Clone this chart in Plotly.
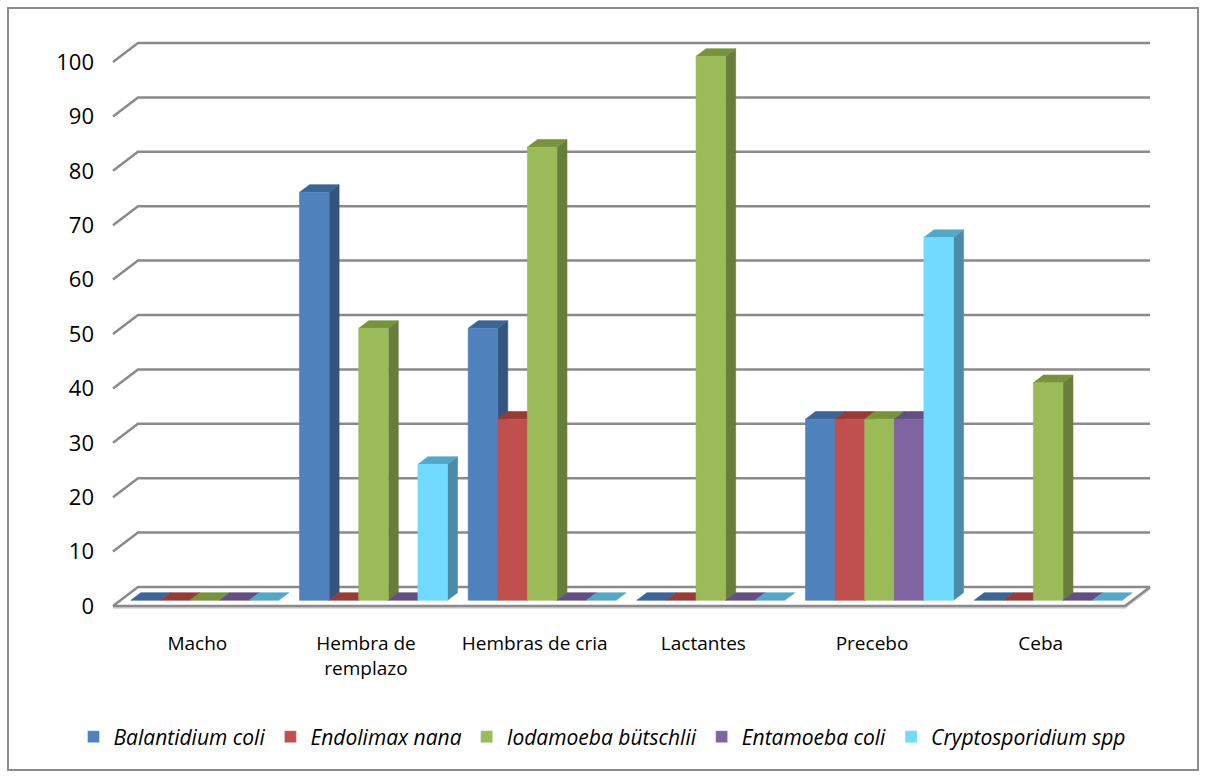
import plotly.graph_objects as go

# --- data -------------------------------------------------------------
categorias = ["Macho", "Hembra de<br>remplazo", "Hembras de cria",
              "Lactantes", "Precebo", "Ceba"]
especies = ["Balantidium coli", "Endolimax nana", "Iodamoeba bütschlii",
            "Entamoeba coli", "Cryptosporidium spp"]
balantidium = [0, 75, 50, 0, 33.3, 0]
endolimax = [0, 0, 33.3, 0, 33.3, 0]
iodamoeba = [0, 50, 83.3, 100, 33.3, 40]
entamoeba = [0, 0, 0, 0, 33.3, 0]
cryptosporidium = [0, 25, 0, 0, 66.7, 0]
y_ticks = list(range(0, 101, 10))

series = [balantidium, endolimax, iodamoeba, entamoeba, cryptosporidium]

# face colours: front, side, top
front_col = ["#4F81BD", "#C0504D", "#9BBB59", "#8064A2", "#70DBFE"]
side_col = ["#34547E", "#863633", "#677D3B", "#5B4776", "#4A8CA7"]
top_col = ["#3C6596", "#953C39", "#77933C", "#644F82", "#56A7C7"]

# --- geometry of the pseudo-3D frame ----------------------------------
W, H = 1205, 777
ML, MR, MT, MB = 95, 15, 20, 147
PW, PH = W - ML - MR, H - MT - MB
PX_CAT = 168.67          # pixels per category slot
PX_VAL = 5.44            # pixels per value unit
WALL_LEFT_PX = 113       # x pixel of the front-left wall corner
FLOOR_PX = 606           # y pixel of value 0 at the front of the wall
DEPTH_DX, DEPTH_DY = 25, 19   # oblique depth offset of the back wall (px)

dxu = DEPTH_DX / PX_CAT
dyu = DEPTH_DY / PX_VAL
x_lo = -0.5 - (WALL_LEFT_PX - ML) / PX_CAT
x_hi = x_lo + PW / PX_CAT
y_lo = -(MT + PH - FLOOR_PX) / PX_VAL
y_hi = y_lo + PH / PX_VAL

bar_w = 29.6 / PX_CAT
n_ser = len(series)
n_cat = len(categorias)
FRONT, BACK = 0.3, 0.7   # depth of bar front / back faces
fx, fy = FRONT * dxu, FRONT * dyu
bx, by = BACK * dxu, BACK * dyu

fig = go.Figure()

# light underside of the floor slab
shadow = 1.6 / PX_VAL
fig.add_trace(go.Scatter(
    x=[-0.5, n_cat - 0.5, n_cat - 0.5 + dxu],
    y=[-shadow, -shadow, dyu - shadow],
    mode="lines", line=dict(color="#D4D4D4", width=2.5),
    hoverinfo="skip", showlegend=False))

# back wall gridlines with their left-wall diagonals, plus floor edges
gx, gy = [], []
for t in y_ticks:
    gx += [-0.5, -0.5 + dxu, n_cat - 0.5 + dxu, None]
    gy += [t, t + dyu, t + dyu, None]
gx += [-0.5, n_cat - 0.5, n_cat - 0.5 + dxu, None]
gy += [0, 0, dyu, None]
fig.add_trace(go.Scatter(x=gx, y=gy, mode="lines",
                         line=dict(color="#8A8A8A", width=2.5),
                         hoverinfo="skip", showlegend=False))


def add_faces(xs, ys, color):
    fig.add_trace(go.Scatter(x=xs, y=ys, mode="lines", fill="toself",
                             fillcolor=color,
                             line=dict(color=color, width=0.6),
                             hoverinfo="skip", showlegend=False))


for j, vals in enumerate(series):
    sx, sy, tx, ty, ffx, ffy = [], [], [], [], [], []
    for i, v in enumerate(vals):
        xl = i - n_ser / 2 * bar_w + j * bar_w
        xr = xl + bar_w
        # top face (drawn for every bar, flat ones included)
        tx += [xl + fx, xr + fx, xr + bx, xl + bx, xl + fx, None]
        ty += [v + fy, v + fy, v + by, v + by, v + fy, None]
        if v > 0:
            sx += [xr + fx, xr + bx, xr + bx, xr + fx, xr + fx, None]
            sy += [fy, by, v + by, v + fy, fy, None]
            ffx += [xl + fx, xr + fx, xr + fx, xl + fx, xl + fx, None]
            ffy += [fy, fy, v + fy, v + fy, fy, None]
    if sx:
        add_faces(sx, sy, side_col[j])
    add_faces(tx, ty, top_col[j])
    if ffx:
        add_faces(ffx, ffy, front_col[j])

# legend entries
for j, name in enumerate(especies):
    fig.add_trace(go.Bar(x=[None], y=[None], name=name,
                         marker=dict(color=front_col[j])))

# outer chart border
def px_to_paper_x(p):
    return (p - ML) / PW


def px_to_paper_y(p):
    return (MT + PH - p) / PH


fig.add_shape(type="rect", xref="paper", yref="paper",
              x0=px_to_paper_x(8), x1=px_to_paper_x(1198),
              y0=px_to_paper_y(770), y1=px_to_paper_y(8),
              line=dict(color="#8C8C8C", width=2), layer="below")

fig.update_layout(
    width=W, height=H, autosize=False,
    margin=dict(l=ML, r=MR, t=MT, b=MB),
    plot_bgcolor="white", paper_bgcolor="white",
    font=dict(family="Open Sans", color="black"),
    xaxis=dict(range=[x_lo, x_hi], showgrid=False, zeroline=False,
               showline=False, ticks="",
               tickvals=list(range(n_cat)), ticktext=categorias,
               tickfont=dict(size=19, color="black")),
    yaxis=dict(range=[y_lo, y_hi], showgrid=False, zeroline=False,
               showline=False, ticks="", tickvals=y_ticks,
               tickfont=dict(size=22, color="black")),
    showlegend=True,
    legend=dict(orientation="h", xref="container", yref="container",
                x=0.5, xanchor="center", y=(H - 737) / H, yanchor="middle",
                font=dict(size=21, style="italic", color="black"),
                itemwidth=30, bgcolor="rgba(0,0,0,0)"),
)

fig.write_html("out.html")
